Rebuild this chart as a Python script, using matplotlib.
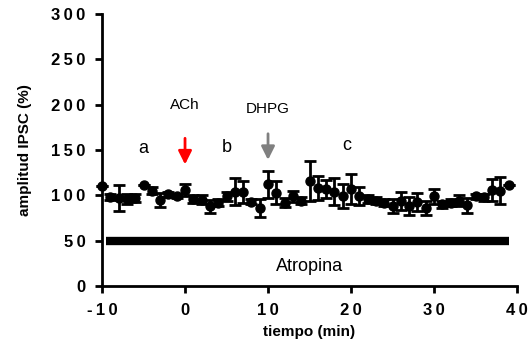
import numpy as np
import matplotlib.pyplot as plt
from matplotlib.ticker import FuncFormatter

plt.rcParams['font.family'] = ['Liberation Sans', 'DejaVu Sans']
plt.rcParams['axes.unicode_minus'] = False

tiempo = np.arange(-10, 40)
amplitud = [110, 98, 97, 96, 97, 111, 105, 95, 101, 99,
            106, 96, 95, 88, 92, 99, 104, 104, 93, 86,
            112, 103, 92, 99, 94, 116, 108, 107, 104, 99,
            107, 99, 96, 94, 92, 88, 94, 88, 93, 86,
            99, 90, 92, 94, 89, 99, 98, 106, 105, 111]
error = [0, 3, 14, 5, 4, 0, 4, 8, 3, 2,
         7, 4, 5, 7, 4, 5, 15, 12, 3, 10,
         15, 13, 5, 6, 4, 22, 13, 10, 15, 13,
         16, 10, 4, 4, 4, 8, 10, 10, 10, 8,
         8, 4, 4, 6, 8, 3, 4, 12, 15, 0]

fig = plt.figure(figsize=(5.3, 3.56), dpi=100)
ax = fig.add_axes([0.1925, 0.1966, 0.783, 0.764])

ax.errorbar(tiempo, amplitud, yerr=error, fmt='o', color='black',
            markersize=6.5, elinewidth=2, capsize=4, capthick=2)

# barra de atropina
ax.plot([-9.5, 39], [50, 50], color='black', linewidth=6, solid_capstyle='butt')
ax.text(15, 22, 'Atropina', ha='center', va='center', fontsize=13)

ax.text(-5, 152, 'a', ha='center', va='center', fontsize=13)
ax.text(5, 153, 'b', ha='center', va='center', fontsize=13)
ax.text(19.5, 155, 'c', ha='center', va='center', fontsize=13)

ax.text(0, 200, 'ACh', ha='center', va='center', fontsize=11)
ax.annotate('', xy=(0, 131), xytext=(0, 166),
            arrowprops=dict(arrowstyle='-|>', color='red', lw=2, mutation_scale=20))
ax.text(10, 195, 'DHPG', ha='center', va='center', fontsize=11)
ax.annotate('', xy=(10, 136), xytext=(10, 171),
            arrowprops=dict(arrowstyle='-|>', color='gray', lw=2, mutation_scale=20))

ax.set_xlim(-10, 40)
ax.set_ylim(0, 300)
ax.set_xticks([-10, 0, 10, 20, 30, 40])
ax.set_yticks([0, 50, 100, 150, 200, 250, 300])
spaced = FuncFormatter(lambda v, p: '\u2009'.join('%d' % v))
ax.xaxis.set_major_formatter(spaced)
ax.yaxis.set_major_formatter(spaced)
ax.spines['top'].set_visible(False)
ax.spines['right'].set_visible(False)
ax.spines['left'].set_linewidth(2)
ax.spines['bottom'].set_linewidth(2)
ax.tick_params(width=2, length=5, labelsize=12, pad=7)
for lab in ax.get_xticklabels() + ax.get_yticklabels():
    lab.set_fontweight('bold')
ax.set_xlabel('tiempo (min)', fontsize=11, fontweight='bold', labelpad=5)
ax.set_ylabel('amplitud IPSC (%)', fontsize=11, fontweight='bold', labelpad=14)
for c in ax.get_children():
    c.set_clip_on(False)

fig.savefig('out.png', dpi=100)
